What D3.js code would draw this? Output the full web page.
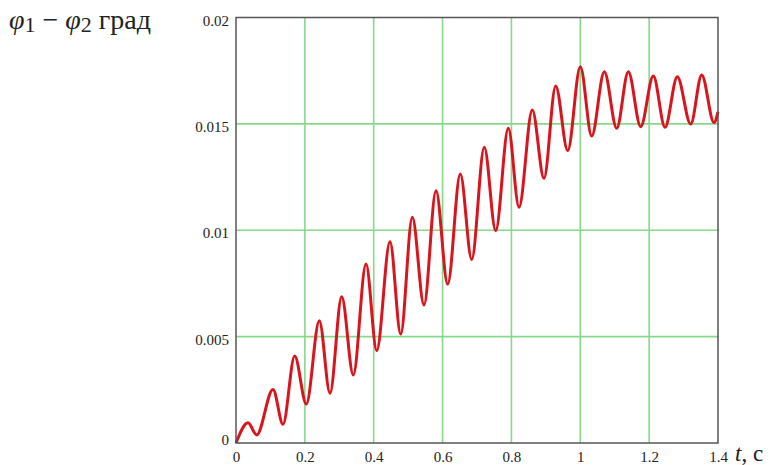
<!DOCTYPE html>
<html>
<head>
<meta charset="utf-8">
<script src="https://cdn.jsdelivr.net/npm/d3@7/dist/d3.min.js"></script>
<style>
html,body{margin:0;padding:0;background:#fff;}
svg{display:block;}
</style>
</head>
<body>
<svg id="chart" width="777" height="465"></svg>
<script>
// Local extrema of the oscillating phase difference (t in s, value in degrees)
const timeS = [0, 0.0349, 0.0601, 0.1075, 0.1365, 0.1705, 0.2042, 0.2420, 0.2730, 0.3070, 0.3407,
  0.3776, 0.4087, 0.4473, 0.4784, 0.5121, 0.5461, 0.5809, 0.6149, 0.6515, 0.6846,
  0.7212, 0.7543, 0.7909, 0.8220, 0.8606, 0.8946, 0.9286, 0.9635, 1.0001, 1.0332,
  1.0698, 1.1058, 1.1395, 1.1755, 1.2121, 1.2461, 1.2818, 1.3207, 1.3527, 1.3884, 1.4];
const phaseDiff = [0, 0.00095, 0.00038, 0.00252, 0.00088, 0.00409, 0.00183, 0.00575, 0.00234, 0.00688, 0.00320,
  0.00841, 0.00434, 0.00946, 0.00512, 0.01061, 0.00649, 0.01186, 0.00747, 0.01264, 0.00863,
  0.01390, 0.00998, 0.01479, 0.01108, 0.01565, 0.01244, 0.01678, 0.01374, 0.01769, 0.01443,
  0.01745, 0.01479, 0.01745, 0.01487, 0.01725, 0.01484, 0.01722, 0.01499, 0.01730, 0.01506, 0.01556];
const xTicks = [0, 0.2, 0.4, 0.6, 0.8, 1, 1.2, 1.4];
const yTicks = [0, 0.005, 0.01, 0.015, 0.02];
const xTickLabels = ["0", "0.2", "0.4", "0.6", "0.8", "1", "1.2", "1.4"];
const yTickLabels = ["0", "0.005", "0.01", "0.015", "0.02"];

const svg = d3.select("#chart");
const L = 236, R = 718, T = 17.5, B = 443;
const x = d3.scaleLinear().domain([0, 1.4]).range([L, R]);
const y = d3.scaleLinear().domain([0, 0.02]).range([B, T]);
const serif = "'Liberation Serif', 'DejaVu Serif', serif";

// grid
const gridColor = "#86d98a";
svg.append("g").selectAll("line.gx").data(xTicks.slice(1, -1)).join("line")
  .attr("x1", d => x(d)).attr("x2", d => x(d)).attr("y1", T).attr("y2", B)
  .attr("stroke", gridColor).attr("stroke-width", 1.6);
svg.append("g").selectAll("line.gy").data(yTicks.slice(1, -1)).join("line")
  .attr("y1", d => y(d)).attr("y2", d => y(d)).attr("x1", L).attr("x2", R)
  .attr("stroke", gridColor).attr("stroke-width", 1.6);

// curve
const pts = timeS.map((t, i) => [t, phaseDiff[i]]);
svg.append("path").datum(pts)
  .attr("d", d3.line().x(d => x(d[0])).y(d => y(d[1])).curve(d3.curveMonotoneX))
  .attr("fill", "none").attr("stroke", "#d9141c").attr("stroke-width", 3)
  .attr("stroke-linejoin", "round");

// frame
svg.append("rect").attr("x", L).attr("y", T).attr("width", R - L).attr("height", B - T)
  .attr("fill", "none").attr("stroke", "#555").attr("stroke-width", 1.5);

// axes labels via d3 axes (no lines)
const xAxis = d3.axisBottom(x).tickValues(xTicks).tickFormat((d, i) => xTickLabels[i]).tickSize(0).tickPadding(8);
const gx = svg.append("g").attr("transform", `translate(0,${B})`).call(xAxis);
gx.select(".domain").remove();
gx.selectAll("text").attr("font-family", serif).attr("font-size", 15).attr("fill", "#222");

const yAxis = d3.axisLeft(y).tickValues(yTicks).tickFormat((d, i) => yTickLabels[i]).tickSize(0).tickPadding(7);
const gy = svg.append("g").attr("transform", `translate(${L},0)`).call(yAxis);
gy.select(".domain").remove();
gy.selectAll("text").attr("font-family", serif).attr("font-size", 15).attr("fill", "#222")
  .attr("dy", (d, i) => (d === 0 ? "0.1em" : "0.5em"));

// x-axis title
const xt = svg.append("text").attr("x", 735).attr("y", 461).attr("font-family", serif)
  .attr("font-size", 23).attr("fill", "#222");
xt.append("tspan").attr("font-style", "italic").text("t");
xt.append("tspan").text(", c");

// y-axis title
const yt = svg.append("text").attr("x", 9).attr("y", 29).attr("font-family", serif)
  .attr("font-size", 28).attr("fill", "#222");
yt.append("tspan").attr("font-style", "italic").text("φ");
yt.append("tspan").attr("font-size", 22).attr("dy", 3).text("1");
yt.append("tspan").attr("dy", -3).text(" − ");
yt.append("tspan").attr("font-style", "italic").text("φ");
yt.append("tspan").attr("font-size", 22).attr("dy", 3).text("2");
yt.append("tspan").attr("dy", -3).text(" град");
</script>
</body>
</html>
